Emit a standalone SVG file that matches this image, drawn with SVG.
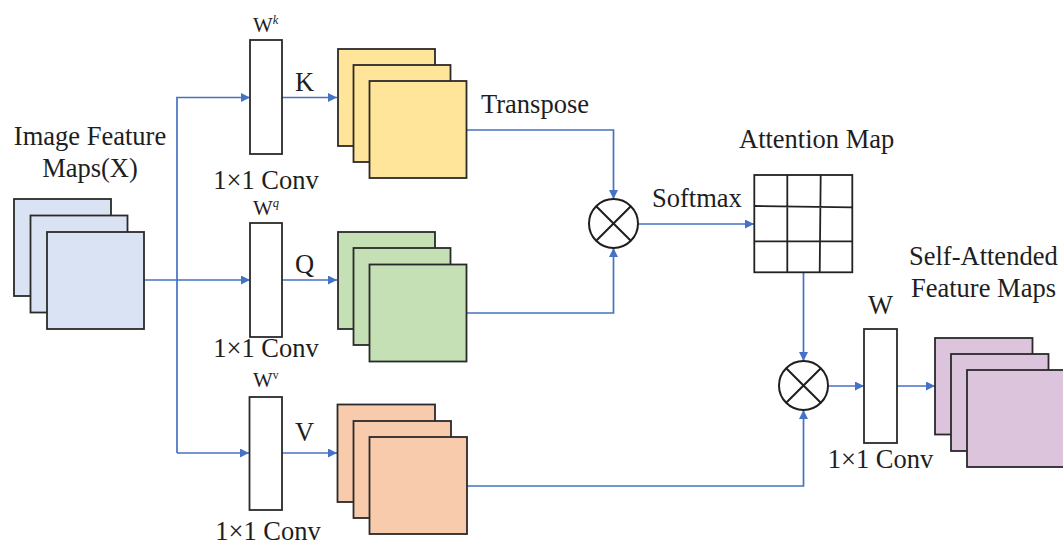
<svg xmlns="http://www.w3.org/2000/svg" width="1063" height="544" viewBox="0 0 1063 544">
  <defs>
    <marker id="arr" viewBox="0 0 10 10" refX="10" refY="5" markerWidth="10" markerHeight="9" markerUnits="userSpaceOnUse" orient="auto">
      <path d="M0,0 L10,5 L0,10 Z" fill="#4472C4"/>
    </marker>
    <style>
      .t { font-family: "Liberation Serif", "Times New Roman", serif; font-size: 26.5px; fill: #1e1e1e; }
      .ws { font-family: "Liberation Serif", "Times New Roman", serif; font-size: 21px; fill: #1e1e1e; }
      .sup { font-size: 12.5px; font-style: italic; }
      .fm { stroke: #2a2a2a; stroke-width: 1.8; }
      .conv { fill: #ffffff; stroke: #2a2a2a; stroke-width: 1.8; }
      .op { fill: #ffffff; stroke: #1e1e1e; stroke-width: 2; }
      .grid { fill: none; stroke: #222222; stroke-width: 1.8; }
      .link { fill: none; stroke: #4472C4; stroke-width: 1.7; }
      .x { fill: #dae3f3; }
      .k { fill: #ffe599; }
      .q { fill: #c5e0b4; }
      .v { fill: #f8cbad; }
      .o { fill: #dcc4dc; }
    </style>
  </defs>

  <rect width="1063" height="544" fill="#ffffff"/>

  <!-- connectors -->
  <g id="connectors">
    <path class="link" d="M144,280 H250" marker-end="url(#arr)"/>
    <path class="link" d="M177,453 V97.5 H250" marker-end="url(#arr)"/>
    <path class="link" d="M177,453 H249" marker-end="url(#arr)"/>
    <path class="link" d="M282,97.5 H337" marker-end="url(#arr)"/>
    <path class="link" d="M282,280 H337" marker-end="url(#arr)"/>
    <path class="link" d="M282,453 H337" marker-end="url(#arr)"/>
    <path class="link" d="M467,130 H613.5 V199" marker-end="url(#arr)"/>
    <path class="link" d="M467,313 H613.5 V248" marker-end="url(#arr)"/>
    <path class="link" d="M638,224 H754" marker-end="url(#arr)"/>
    <path class="link" d="M803.5,272 V361" marker-end="url(#arr)"/>
    <path class="link" d="M467,486 H803.5 V410" marker-end="url(#arr)"/>
    <path class="link" d="M828,386 H864" marker-end="url(#arr)"/>
    <path class="link" d="M897,386 H935" marker-end="url(#arr)"/>
  </g>

  <!-- input feature maps X -->
  <g id="input-maps">
    <rect class="fm x" x="14" y="199" width="97" height="97"/>
    <rect class="fm x" x="30.5" y="215.5" width="97" height="97"/>
    <rect class="fm x" x="47" y="232" width="97" height="97"/>
    <text class="t" x="90" y="145" text-anchor="middle">Image Feature</text>
    <text class="t" x="90" y="177" text-anchor="middle">Maps(X)</text>
  </g>

  <!-- key projection -->
  <g id="conv-k">
    <rect class="conv" x="250" y="40" width="32" height="114"/>
    <text class="ws" x="253" y="32">W<tspan class="sup" dy="-8">k</tspan></text>
    <text class="t" x="266" y="189" text-anchor="middle">1×1 Conv</text>
  </g>
  <g id="maps-k">
    <rect class="fm k" x="338" y="49" width="97" height="97"/>
    <rect class="fm k" x="353.5" y="65" width="97" height="97"/>
    <rect class="fm k" x="369.5" y="81" width="97" height="97"/>
    <text class="t" x="295" y="91">K</text>
    <text class="t" x="481" y="113">Transpose</text>
  </g>

  <!-- query projection -->
  <g id="conv-q">
    <rect class="conv" x="250" y="223" width="32" height="114"/>
    <text class="ws" x="253" y="215">W<tspan class="sup" dy="-8">q</tspan></text>
    <text class="t" x="266" y="357" text-anchor="middle">1×1 Conv</text>
  </g>
  <g id="maps-q">
    <rect class="fm q" x="338" y="232" width="97" height="97"/>
    <rect class="fm q" x="353.5" y="248" width="97" height="97"/>
    <rect class="fm q" x="369.5" y="264.5" width="97" height="97"/>
    <text class="t" x="295" y="273">Q</text>
  </g>

  <!-- value projection -->
  <g id="conv-v">
    <rect class="conv" x="249.5" y="397" width="32.5" height="113"/>
    <text class="ws" x="253" y="387">W<tspan font-size="11.5px" dy="-8">v</tspan></text>
    <text class="t" x="268" y="540" text-anchor="middle">1×1 Conv</text>
  </g>
  <g id="maps-v">
    <rect class="fm v" x="337.5" y="404.5" width="97.5" height="97.5"/>
    <rect class="fm v" x="353.5" y="421" width="97.5" height="97"/>
    <rect class="fm v" x="369.5" y="437" width="97.5" height="97"/>
    <text class="t" x="295" y="441">V</text>
  </g>

  <!-- K^T x Q product -->
  <g id="mul-1">
    <circle class="op" cx="613.5" cy="223.5" r="24.5"/>
    <path class="op" d="M596.2,206.2 L630.8,240.8 M630.8,206.2 L596.2,240.8"/>
    <text class="t" x="652" y="207">Softmax</text>
  </g>

  <!-- attention map -->
  <g id="attention-map">
    <rect class="grid" x="754.3" y="175" width="98" height="97.3"/>
    <path class="grid" d="M787.3,175 V272.3 M820.7,175 L819.7,272.3 M754.3,206 L852.3,207.3 M754.3,241.3 H852.3"/>
    <text class="t" x="739" y="148">Attention Map</text>
  </g>

  <!-- attention x V product -->
  <g id="mul-2">
    <circle class="op" cx="803.5" cy="385.5" r="24.5"/>
    <path class="op" d="M786.2,368.2 L820.8,402.8 M820.8,368.2 L786.2,402.8"/>
  </g>

  <!-- output projection -->
  <g id="conv-w">
    <rect class="conv" x="864" y="329" width="33" height="114"/>
    <text class="t" x="868" y="314" font-size="25px">W</text>
    <text class="t" x="880.5" y="468" text-anchor="middle">1×1 Conv</text>
  </g>

  <!-- output feature maps -->
  <g id="output-maps">
    <rect class="fm o" x="935" y="338" width="97.5" height="96.5"/>
    <rect class="fm o" x="951" y="354" width="97.5" height="97"/>
    <rect class="fm o" x="967" y="370" width="97.5" height="97"/>
    <text class="t" x="909" y="265">Self-Attended</text>
    <text class="t" x="911" y="297">Feature Maps</text>
  </g>
</svg>
